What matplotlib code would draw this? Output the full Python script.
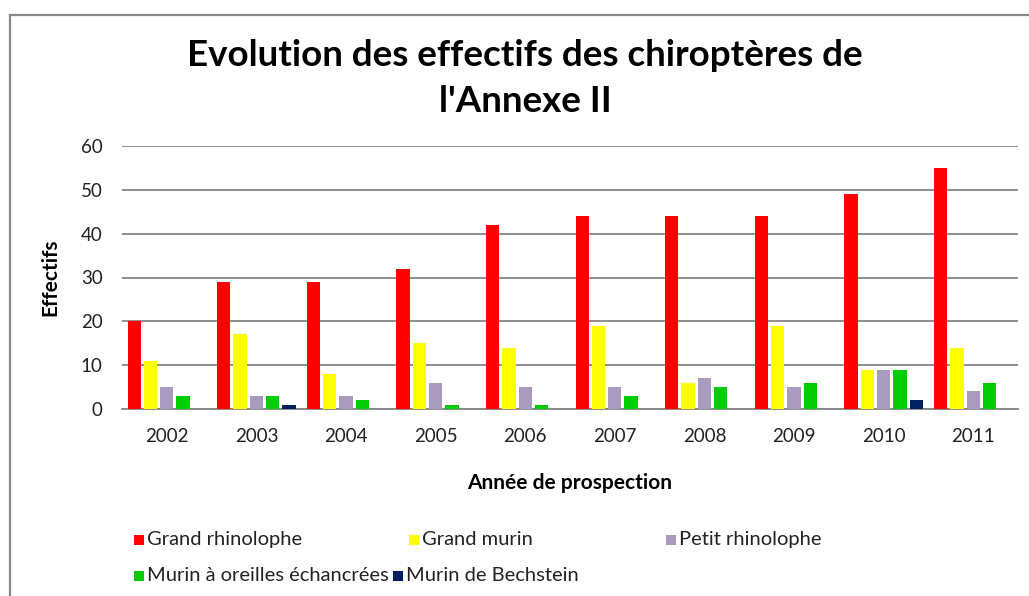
import matplotlib
matplotlib.use("Agg")
import matplotlib.pyplot as plt
from matplotlib.patches import Rectangle
from matplotlib.lines import Line2D
import numpy as np

years = ["2002", "2003", "2004", "2005", "2006", "2007", "2008", "2009", "2010", "2011"]
species = ["Grand rhinolophe", "Grand murin", "Petit rhinolophe",
           "Murin à oreilles échancrées", "Murin de Bechstein"]
grand_rhinolophe = [20, 29, 29, 32, 42, 44, 44, 44, 49, 55]
grand_murin = [11, 17, 8, 15, 14, 19, 6, 19, 9, 14]
petit_rhinolophe = [5, 3, 3, 6, 5, 5, 7, 5, 9, 4]
murin_oreilles = [3, 3, 2, 1, 1, 3, 5, 6, 9, 6]
murin_bechstein = [0, 1, 0, 0, 0, 0, 0, 0, 2, 0]
series = [grand_rhinolophe, grand_murin, petit_rhinolophe, murin_oreilles, murin_bechstein]
colors = ["#FF0000", "#FFFF00", "#A89BBE", "#00CC00", "#002060"]

FONT = "Lato"
W, H = 1029, 596
fig = plt.figure(figsize=(W / 100, H / 100), dpi=100)
fig.patch.set_facecolor("white")

# chart frame (top and left border of the chart area)
fig.add_artist(Line2D([10 / W, 1.0], [1 - 15 / H, 1 - 15 / H], color="#888888", lw=1.6))
fig.add_artist(Line2D([10 / W, 10 / W], [1 - 15 / H, 0], color="#888888", lw=1.6))

ax = fig.add_axes([122 / W, 1 - 409 / H, (1018 - 122) / W, (409 - 146) / H])
x = np.arange(len(years))
pitch = 0.182
width = 0.148
for i, (vals, c) in enumerate(zip(series, colors)):
    ax.bar(x + (i - 2) * pitch, vals, width=width, color=c, label=species[i], zorder=3)

ax.set_xlim(-0.5, len(years) - 0.5)
ax.set_ylim(0, 60)
ax.set_yticks(range(0, 61, 10))
ax.yaxis.grid(True, color="#868686", lw=1.3, zorder=0)
ax.set_axisbelow(True)
for s in ["top", "right", "left"]:
    ax.spines[s].set_visible(False)
ax.spines["bottom"].set_color("#868686")
ax.spines["bottom"].set_linewidth(1.3)
ax.tick_params(axis="both", length=0, labelsize=13.5)
ax.tick_params(axis="y", pad=14)
ax.tick_params(axis="x", pad=14)
ax.set_xticks(x)
ax.set_xticklabels(years)
for lbl in ax.get_xticklabels() + ax.get_yticklabels():
    lbl.set_fontfamily(FONT)
    lbl.set_color("#222222")

fig.text(50 / W, 1 - 277 / H, "Effectifs", rotation=90, ha="center", va="center",
         fontsize=15, fontweight="bold", family=FONT)
fig.text(570 / W, 1 - 483 / H, "Année de prospection", ha="center", va="center",
         fontsize=15, fontweight="bold", family=FONT)
fig.text(525 / W, 1 - 56 / H, "Evolution des effectifs des chiroptères de",
         ha="center", va="center", fontsize=26.5, fontweight="bold", family=FONT)
fig.text(525 / W, 1 - 101 / H, "l'Annexe II",
         ha="center", va="center", fontsize=26.5, fontweight="bold", family=FONT)

# legend
legend_pos = [(134, 540), (409, 540), (666, 540), (134, 576), (393, 576)]
for (lx, ly), name, c in zip(legend_pos, species, colors):
    fig.add_artist(Rectangle((lx / W, 1 - (ly + 5) / H), 10 / W, 10 / H,
                             transform=fig.transFigure, facecolor=c, edgecolor="none"))
    fig.text((lx + 13) / W, 1 - (ly + 5) / H, name, ha="left", va="baseline",
             fontsize=14.5, family=FONT, color="#222222")

fig.savefig("out.png", dpi=100, facecolor="white")
